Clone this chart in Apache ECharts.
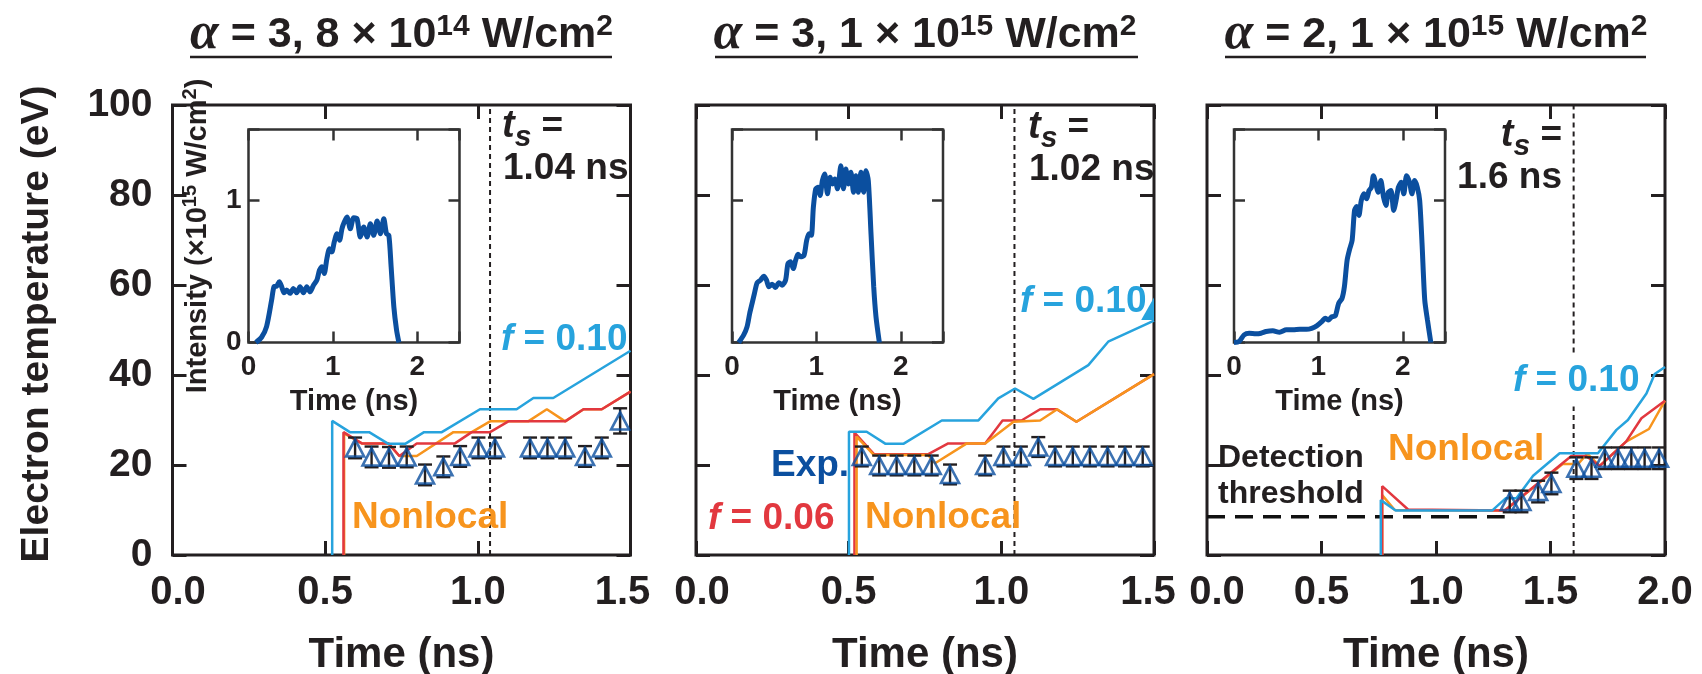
<!DOCTYPE html>
<html><head><meta charset="utf-8">
<script src="https://cdn.jsdelivr.net/npm/echarts/dist/echarts.min.js"></script>
<style>html,body{margin:0;padding:0;background:#fff}#c{width:1702px;height:674px}</style>
</head><body><div id="c"></div>
<script>
// ---------------- DATA ----------------
const panelTitles = ['α = 3, 8 × 10^14 W/cm^2', 'α = 3, 1 × 10^15 W/cm^2', 'α = 2, 1 × 10^15 W/cm^2'];
const yTickLabels = ['0','20','40','60','80','100'];
const xMaxMain = [1.5, 1.5, 2.0];
const tsValues = [1.04, 1.043, 1.601];
const tsLabels = ['1.04 ns', '1.02 ns', '1.6 ns'];
const p3TsGap = [33, 45]; // the dotted t_s line in panel 3 is interrupted behind the "f = 0.10" label

// Panel 1 (alpha=3, 8e14)
const p1F010 = [[0.523,0],[0.523,29.8],[0.581,27.3],[0.644,27.3],[0.707,24.7],[0.762,24.7],[0.824,27.3],[0.882,27.3],[1.007,32.4],[1.127,32.4],[1.182,34.9],[1.247,34.9],[1.5,45.4]];
const p1F006 = [[0.56,0],[0.56,27.3],[0.62,24.8],[0.707,24.8],[0.743,22.0],[0.80,24.8],[0.925,24.8],[0.98,27.3],[1.04,27.3],[1.10,29.7],[1.286,29.7],[1.346,32.4],[1.406,32.4],[1.5,36.3]];
const p1Nonlocal = [[0.562,0],[0.562,27.0],[0.62,24.8],[0.707,24.8],[0.743,22.0],[0.80,22.0],[0.92,27.3],[0.98,27.3],[1.04,29.7],[1.165,29.7],[1.226,32.4],[1.286,29.7],[1.346,32.4],[1.406,32.4],[1.5,36.3]];
const p1ExpT = [0.598,0.652,0.709,0.767,0.827,0.887,0.942,1.002,1.056,1.171,1.228,1.286,1.351,1.406,1.466];
const p1ExpV = [23.8,21.8,21.7,21.8,17.8,19.6,21.9,23.8,23.8,23.8,23.8,23.8,21.9,23.8,29.8];
const p1ExpE = [2.3,2.3,2.3,2.3,2.3,2.3,2.3,2.3,2.3,2.3,2.3,2.3,2.3,2.3,2.8];

// Panel 2 (alpha=3, 1e15)
const p2F010 = [[0.501,0],[0.501,27.4],[0.559,27.4],[0.621,24.7],[0.679,24.7],[0.805,29.9],[0.925,29.9],[0.99,34.8],[1.045,37.0],[1.105,34.7],[1.285,42.2],[1.35,47.4],[1.5,52.1]];
const p2F006 = [[0.519,0],[0.519,27.2],[0.583,22.4],[0.761,22.4],[0.826,24.8],[0.947,24.8],[1.004,29.9],[1.066,29.9],[1.127,32.4],[1.181,32.4],[1.246,29.6],[1.5,40.2]];
const p2Nonlocal = [[0.526,0],[0.526,26.3],[0.583,22.2],[0.761,22.2],[0.783,20.4],[0.887,24.8],[0.947,24.8],[1.04,29.6],[1.127,29.9],[1.183,32.4],[1.246,29.6],[1.5,40.2]];
const p2Wedge = [[1.458,52.2],[1.5,57.2],[1.5,52.2]];
const p2ExpT = [0.543,0.600,0.657,0.715,0.772,0.832,0.947,1.007,1.064,1.121,1.176,1.234,1.290,1.348,1.405,1.463];
const p2ExpV = [21.9,19.9,19.9,19.9,19.9,17.9,19.9,21.9,21.9,24.0,21.9,21.9,21.9,21.9,21.9,21.9];
const p2ExpE = [2.2,2.2,2.2,2.2,2.2,2.2,2.2,2.2,2.2,2.2,2.2,2.2,2.2,2.2,2.2,2.2];

// Panel 3 (alpha=2, 1e15)
const p3F010 = [[0.759,0],[0.759,12.2],[0.824,9.9],[1.246,9.9],[1.304,12.6],[1.351,12.6],[1.424,17.6],[1.54,22.6],[1.707,22.6],[1.788,27.8],[1.838,30.0],[1.919,35.9],[1.955,40.2],[2.0,41.8]];
const p3F006 = [[0.765,0],[0.765,15.3],[0.878,10.1],[1.30,9.9],[1.591,22.0],[1.655,22.0],[1.715,19.8],[1.83,25.2],[1.897,30.4],[2.0,34.3]];
const p3Nonlocal = [[0.765,0],[0.765,13.3],[0.82,10.0],[1.30,9.9],[1.553,20.2],[1.62,20.2],[1.66,22.5],[1.715,19.8],[1.83,25.2],[1.93,28.0],[2.0,34.3]];
const p3Threshold = [[0,8.5],[1.3,8.5]];
const p3ExpT = [1.322,1.373,1.446,1.504,1.613,1.679,1.737,1.795,1.853,1.911,1.974];
const p3ExpV = [11.9,11.9,14.1,15.9,19.3,19.3,21.5,21.5,21.5,21.5,21.5];
const p3ExpE = [2.4,2.4,2.4,2.4,2.4,2.4,2.4,2.4,2.4,2.4,2.4];

// Inset laser pulses (time ns, intensity 1e15 W/cm2)
const pulse1 = [[0.087,0],[0.155,0.037],[0.214,0.112],[0.274,0.299],[0.302,0.393],[0.333,0.397],[0.365,0.428],[0.393,0.393],[0.421,0.350],[0.452,0.369],[0.492,0.346],[0.532,0.381],[0.571,0.350],[0.611,0.393],[0.651,0.350],[0.690,0.393],[0.730,0.357],[0.770,0.404],[0.810,0.439],[0.841,0.509],[0.869,0.533],[0.897,0.486],[0.929,0.591],[0.960,0.661],[0.988,0.638],[1.016,0.708],[1.048,0.766],[1.079,0.720],[1.107,0.801],[1.135,0.848],[1.167,0.883],[1.206,0.801],[1.246,0.879],[1.286,0.871],[1.325,0.743],[1.365,0.813],[1.405,0.743],[1.444,0.836],[1.484,0.755],[1.524,0.855],[1.563,0.766],[1.603,0.871],[1.635,0.766],[1.663,0.755],[1.690,0.533],[1.722,0.252],[1.754,0.089],[1.782,0]];
const pulse2 = [[0.079,0],[0.139,0.054],[0.179,0.112],[0.210,0.206],[0.238,0.276],[0.266,0.346],[0.298,0.421],[0.337,0.439],[0.377,0.467],[0.409,0.439],[0.437,0.393],[0.476,0.411],[0.516,0.388],[0.556,0.421],[0.595,0.404],[0.635,0.439],[0.663,0.556],[0.694,0.568],[0.726,0.521],[0.754,0.579],[0.782,0.621],[0.813,0.603],[0.853,0.614],[0.885,0.720],[0.913,0.766],[0.940,0.755],[0.964,0.953],[0.992,1.082],[1.020,1.093],[1.044,1.035],[1.071,1.140],[1.099,1.187],[1.131,1.047],[1.163,1.164],[1.190,1.117],[1.218,1.152],[1.250,1.082],[1.290,1.245],[1.321,1.082],[1.349,1.222],[1.377,1.117],[1.409,1.199],[1.440,1.058],[1.468,1.175],[1.496,1.058],[1.528,1.199],[1.560,1.058],[1.587,1.210],[1.615,1.140],[1.647,0.766],[1.679,0.393],[1.706,0.182],[1.746,0]];
const pulse3 = [[0.0,0],[0.06,0.007],[0.12,0.054],[0.18,0.065],[0.26,0.061],[0.32,0.065],[0.38,0.077],[0.46,0.082],[0.54,0.072],[0.62,0.089],[0.70,0.089],[0.78,0.093],[0.86,0.093],[0.92,0.100],[0.98,0.117],[1.04,0.147],[1.08,0.171],[1.12,0.159],[1.16,0.182],[1.20,0.187],[1.24,0.276],[1.28,0.311],[1.308,0.393],[1.34,0.579],[1.372,0.661],[1.40,0.720],[1.428,0.930],[1.452,0.958],[1.48,0.895],[1.508,1.0],[1.54,1.047],[1.572,1.012],[1.60,1.07],[1.628,1.093],[1.652,1.175],[1.68,1.117],[1.708,1.058],[1.74,1.140],[1.772,1.023],[1.80,0.965],[1.828,1.058],[1.86,1.070],[1.892,0.930],[1.92,1.0],[1.948,1.093],[1.98,1.128],[2.012,1.047],[2.044,1.175],[2.08,1.128],[2.108,1.047],[2.14,1.140],[2.172,1.093],[2.20,1.0],[2.228,0.696],[2.26,0.299],[2.292,0.159],[2.332,0]];

// ---------------- STYLE ----------------
const C = {k:'#231f20', ins:'#333333', lb:'#27a3dd', red:'#e2383f', org:'#f7941d', db:'#0b4f9f'};
const FONT = '"Liberation Sans", Arial, Helvetica, sans-serif';
const SERIF = '"Liberation Serif", "DejaVu Serif", serif';

const grids = [
  {left:172.5, top:105, width:458, height:450},
  {left:696, top:105, width:458, height:450},
  {left:1207, top:105, width:458, height:450},
  {left:248.5, top:129.5, width:211, height:213},
  {left:732, top:129.5, width:211, height:213},
  {left:1234, top:129.5, width:211, height:213}
].map((g,i)=>Object.assign(g,{show:true, borderColor: i<3?C.k:C.ins, borderWidth: i<3?3:2.5, backgroundColor:'#fff', containLabel:false, outerBoundsMode:'none'}));

const minShift = [11, 12, 20], maxShift = [16, 12, 0];
const xAxes = [], yAxes = [];
const noLine = {show:false, onZero:false};
grids.forEach((gr, g) => {
  const inset = g >= 3;
  const xmax = inset ? 2.5 : xMaxMain[g];
  const ymax = inset ? 1.5 : 100;
  const xint = inset ? 1 : 0.5, yint = inset ? 1 : 20;
  const tick = {show:true, inside:true, length: inset?11:14, lineStyle:{color: inset?C.ins:C.k, width: inset?2.5:3}};
  const lblBase = {color:C.k, fontFamily:FONT, fontWeight:'bold'};
  let xLabel, yLabel, xName = '', yName = '', xNameGap = 0, yNameGap = 0, xNameStyle = {}, yNameStyle = {};
  if (!inset) {
    const fs = 40;
    xLabel = Object.assign({show:true, fontSize:fs, margin:18,
      formatter: v => { const s = v.toFixed(1); if (v === 0) return '{mn|'+s+'}'; if (Math.abs(v-xmax)<1e-9) return '{mx|'+s+'}'; return s; },
      rich: {mn: Object.assign({fontSize:fs, padding:[0,0,0,minShift[g]]}, lblBase), mx: Object.assign({fontSize:fs, padding:[0,maxShift[g],0,0]}, lblBase)}}, lblBase);
    yLabel = Object.assign({show: g===0, fontSize:39, margin:20, formatter: v => yTickLabels[Math.round(v/20)]}, lblBase);
    xName = 'Time (ns)'; xNameGap = 79; xNameStyle = Object.assign({fontSize:42}, lblBase);
    if (g===0) { yName = 'Electron temperature (eV)'; yNameGap = 116; yNameStyle = Object.assign({fontSize:39, padding:[0,0,0,12]}, lblBase); }
  } else {
    const fmt = v => Number.isInteger(v) ? String(v) : '';
    xLabel = Object.assign({show:true, fontSize:28, margin:11, formatter: fmt}, lblBase);
    yLabel = Object.assign({show: g===3, fontSize:28, margin:7, formatter: fmt}, lblBase);
    xName = 'Time (ns)'; xNameGap = 45; xNameStyle = Object.assign({fontSize:29}, lblBase);
    if (g===3) {
      yName = '{n|Intensity (×10}{p|15}{n| W/cm}{p|2}{n|)}'; yNameGap = 33;
      yNameStyle = {rich:{n:Object.assign({fontSize:29}, lblBase), p:Object.assign({fontSize:20, padding:[0,0,15,0]}, lblBase)}};
    }
  }
  xAxes.push({gridIndex:g, type:'value', position:'bottom', min:0, max:xmax, interval:xint,
    axisLine:noLine, splitLine:{show:false}, axisTick:tick, axisLabel:xLabel,
    name:xName, nameLocation:'middle', nameGap:xNameGap, nameTextStyle:xNameStyle});
  xAxes.push({gridIndex:g, type:'value', position:'top', min:0, max:xmax, interval:xint,
    axisLine:noLine, splitLine:{show:false}, axisTick:tick, axisLabel:{show:false}});
  yAxes.push({gridIndex:g, type:'value', position:'left', min:0, max:ymax, interval:yint,
    axisLine:noLine, splitLine:{show:false}, axisTick:tick, axisLabel:yLabel,
    name:yName, nameLocation:'middle', nameRotate:90, nameGap:yNameGap, nameTextStyle:yNameStyle});
  yAxes.push({gridIndex:g, type:'value', position:'right', min:0, max:ymax, interval:yint,
    axisLine:noLine, splitLine:{show:false}, axisTick:tick, axisLabel:{show:false}});
});

function line(g, data, color, width, z, extra) {
  return Object.assign({type:'line', xAxisIndex:2*g, yAxisIndex:2*g, data, symbol:'none', silent:true,
    lineStyle:{color, width}, z: z||2, animation:false}, extra||{});
}
function expTri(g, T, V) {
  return {type:'scatter', xAxisIndex:2*g, yAxisIndex:2*g, data:T.map((t,i)=>[t,V[i]]),
    symbol:'triangle', symbolSize:[18,17], z:6, animation:false,
    itemStyle:{color:'rgba(255,255,255,0)', borderColor:C.db, borderWidth:2.6}};
}
function expErr(g, T, V, E) {
  return {type:'custom', xAxisIndex:2*g, yAxisIndex:2*g, data:T.map((t,i)=>[t,V[i],E[i]]),
    encode:{x:0, y:1}, z:5, animation:false,
    renderItem:(p, api) => {
      const x = api.value(0), y = api.value(1), e = api.value(2);
      const a = api.coord([x, y+e]), b = api.coord([x, y-e]), hw = 7;
      const st = {stroke:C.k, lineWidth:2.4};
      return {type:'group', children:[
        {type:'line', shape:{x1:a[0],y1:a[1],x2:b[0],y2:b[1]}, style:st},
        {type:'line', shape:{x1:a[0]-hw,y1:a[1],x2:a[0]+hw,y2:a[1]}, style:st},
        {type:'line', shape:{x1:b[0]-hw,y1:b[1],x2:b[0]+hw,y2:b[1]}, style:st}]};
    }};
}
const tsStyle = {lineStyle:{color:C.k, width:2, type:[5,4]}};
const series = [
  // panel 1
  line(0, p1Nonlocal, C.org, 2.5, 2),
  line(0, p1F006, C.red, 2.5, 3),
  line(0, p1F010, C.lb, 2.5, 4),
  line(0, [[tsValues[0],0],[tsValues[0],100]], C.k, 2, 1, tsStyle),
  expErr(0, p1ExpT, p1ExpV, p1ExpE), expTri(0, p1ExpT, p1ExpV),
  // panel 2
  line(1, p2F006, C.red, 2.5, 2),
  line(1, p2Nonlocal, C.org, 2.5, 3),
  line(1, p2F010, C.lb, 2.5, 4),
  {type:'custom', xAxisIndex:2, yAxisIndex:2, data:[p2Wedge[1]], encode:{x:0,y:1}, z:4, animation:false,
    renderItem:(p, api) => ({type:'polygon', shape:{points:p2Wedge.map(d=>api.coord(d))}, style:{fill:C.lb}})},
  line(1, [[tsValues[1],0],[tsValues[1],100]], C.k, 2, 1, tsStyle),
  expErr(1, p2ExpT, p2ExpV, p2ExpE), expTri(1, p2ExpT, p2ExpV),
  // panel 3
  line(2, p3Threshold, C.k, 3.5, 1, {lineStyle:{color:'#111', width:3.5, type:[18,10]}}),
  line(2, p3Nonlocal, C.org, 2.5, 2),
  line(2, p3F006, C.red, 2.5, 3),
  line(2, p3F010, C.lb, 2.5, 4),
  line(2, [[tsValues[2],0],[tsValues[2],p3TsGap[0]]], C.k, 2, 1, tsStyle),
  line(2, [[tsValues[2],p3TsGap[1]],[tsValues[2],100]], C.k, 2, 1, tsStyle),
  expErr(2, p3ExpT, p3ExpV, p3ExpE), expTri(2, p3ExpT, p3ExpV),
  // insets
  line(3, pulse1, C.db, 5, 3, {smooth:0.25}),
  line(4, pulse2, C.db, 5, 3, {smooth:0.25}),
  line(5, pulse3, C.db, 5, 3, {smooth:0.25})
];

// ---------------- TEXT ----------------
function txt(x, y, text, o) {
  return {type:'text', x, y, z:100, silent:true,
    style:Object.assign({text, fontFamily:FONT, fontWeight:'bold', fontSize:37, fill:C.k, align:'left', verticalAlign:'middle'}, o||{})};
}
function titleText(cx, s) {
  const m = s.match(/^α = (.*) 10\^(\d+) W\/cm\^2$/);
  const n = {fontFamily:FONT, fontWeight:'bold', fontSize:43, fill:C.k};
  return txt(cx, 35, '{a|α}{n| = '+m[1]+' 10}{p|'+m[2]+'}{n| W/cm}{p|2}', {align:'center',
    rich:{a:{fontFamily:SERIF, fontStyle:'italic', fontWeight:'bold', fontSize:52, fill:C.k},
          n:n, p:Object.assign({}, n, {fontSize:30, padding:[0,0,17,0]})}});
}
function tsText(x, y, align) {
  const b = {fontFamily:FONT, fontWeight:'bold', fill:C.k};
  return txt(x, y, '{t|t}{s|s}{e| =}', {align, rich:{
    t:Object.assign({fontSize:38, fontStyle:'italic'}, b),
    s:Object.assign({fontSize:30, fontStyle:'italic', padding:[22,0,0,0]}, b),
    e:Object.assign({fontSize:37}, b)}});
}
const graphics = [
  titleText(401.5, panelTitles[0]), titleText(925, panelTitles[1]), titleText(1436, panelTitles[2]),
  {type:'line', z:100, shape:{x1:190,y1:57,x2:612,y2:57}, style:{stroke:C.k, lineWidth:2.5}},
  {type:'line', z:100, shape:{x1:715,y1:57,x2:1138,y2:57}, style:{stroke:C.k, lineWidth:2.5}},
  {type:'line', z:100, shape:{x1:1225,y1:57,x2:1646,y2:57}, style:{stroke:C.k, lineWidth:2.5}},
  // panel 1
  tsText(502, 127, 'left'), txt(503, 169, tsLabels[0]),
  txt(501, 340, 'f = 0.10', {fill:C.lb}),
  txt(352, 518, 'Nonlocal', {fill:C.org}),
  // panel 2
  tsText(1028, 128, 'left'), txt(1029, 170, tsLabels[1]),
  txt(1020, 302, 'f = 0.10', {fill:C.lb}),
  txt(771, 466, 'Exp.', {fill:C.db}),
  txt(708, 519, 'f = 0.06', {fill:C.red}),
  txt(865, 518, 'Nonlocal', {fill:C.org}),
  // panel 3
  tsText(1562, 136, 'right'), txt(1562, 178, tsLabels[2], {align:'right'}),
  txt(1513, 381, 'f = 0.10', {fill:C.lb}),
  txt(1388, 450, 'Nonlocal', {fill:C.org}),
  txt(1218, 458, 'Detection', {fontSize:32}),
  txt(1218, 494, 'threshold', {fontSize:32})
];
// italic f for the "f = ..." labels
graphics.forEach(el => {
  if (el.type==='text' && /^f = /.test(el.style.text)) {
    const s = el.style, base = {fontFamily:FONT, fontWeight:'bold', fontSize:s.fontSize, fill:s.fill};
    s.rich = {i:Object.assign({fontStyle:'italic'}, base), r:base};
    s.text = '{i|f}{r|' + s.text.slice(1) + '}';
  }
});

const chart = echarts.init(document.getElementById('c'), null, {renderer:'canvas'});
chart.setOption({animation:false, backgroundColor:'#fff', grid:grids, xAxis:xAxes, yAxis:yAxes, series, graphic:{elements:graphics}});
</script></body></html>
